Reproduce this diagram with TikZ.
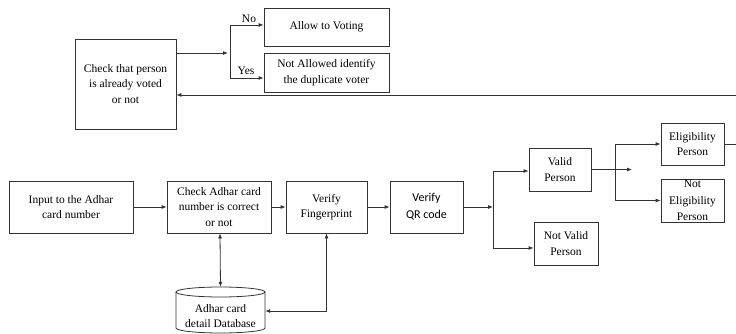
\documentclass[tikz,border=0pt]{standalone}
\usepackage{fontspec}
\setmainfont{Liberation Serif}
\newfontfamily\qrfont{Carlito}
\usetikzlibrary{arrows.meta}
\begin{document}
\begin{tikzpicture}[x=1pt,y=-1pt,
  box/.style={draw=black!80, line width=0.8pt, align=center, inner sep=1pt,
    font=\fontsize{11.5}{15.5}\selectfont},
  dbtext/.style={align=center, inner sep=0pt, font=\fontsize{11.5}{15.5}\selectfont},
  lbl/.style={inner sep=0pt, font=\fontsize{11.5}{14}\selectfont},
  line/.style={draw=black!80, line width=0.8pt},
  arr/.style={line, -{Latex[length=5pt,width=4pt]}},
  darr/.style={line, {Latex[length=5pt,width=4pt]}-{Latex[length=5pt,width=4pt]}}]
\useasboundingbox (0,0) rectangle (736,334);
\clip (0,0) rectangle (736,334);

% top part
\node[box, minimum width=101pt, minimum height=90pt] (chk) at (125.5,84) {Check that person\\is already voted\\or not};
\node[box, minimum width=125pt, minimum height=38pt] (allow) at (326.5,27) {Allow to Voting};
\node[box, minimum width=125pt, minimum height=39pt] (nallow) at (326.5,72.5) {Not Allowed identify\\the duplicate voter};

% main row
\node[box, minimum width=124pt, minimum height=52pt] (inp) at (71,207) {Input to the Adhar\\card number};
\node[box, minimum width=104pt, minimum height=52pt] (cad) at (219,207) {Check Adhar card\\number is correct\\or not};
\node[box, minimum width=81pt, minimum height=52pt] (fp) at (326.5,207) {Verify\\Fingerprint};
\node[box, minimum width=73pt, minimum height=52pt, font=\qrfont\fontsize{12}{17}\selectfont] (qr) at (426.5,207) {Verify\\QR code};
\node[box, minimum width=62pt, minimum height=43pt] (val) at (560,169.5) {Valid\\Person};
\node[box, minimum width=64pt, minimum height=43pt] (nval) at (566,243.5) {Not Valid\\Person};
\node[box, minimum width=63pt, minimum height=42pt] (elig) at (692.5,144) {Eligibility\\Person};
\node[box, minimum width=63pt, minimum height=43pt, font=\fontsize{11.5}{16.5}\selectfont] (nelig) at (692.5,200.5) {Not\\Eligibility\\Person};

% database cylinder
\node[dbtext, minimum width=89pt, minimum height=46pt] (db) at (220.5,310) {};
\draw[line, fill=white] (176,292) -- (176,328) arc[start angle=180, end angle=360, x radius=44.5pt, y radius=5pt] -- (265,292);
\draw[line] (220.5,292) ellipse[x radius=44.5pt, y radius=5pt];
\node[dbtext] (dbt) at (220.5,316) {Adhar card\\detail Database};

% top connectors
\coordinate (s1) at (230,53);
\draw[arr] (chk.east |- s1) -- (228,53);
\draw[arr] (s1) |- ([yshift=2pt]allow.west);
\draw[arr] (s1) |- ([yshift=-5.5pt]nallow.west);
\node[lbl] (no) at (249,19) {No};
\node[lbl] (yes) at (246,71) {Yes};

% feedback line
\draw[arr] (elig.east) -- (745,144) |- ([yshift=-11pt]chk.east);

% main row connectors
\draw[arr] (inp) -- (cad);
\draw[arr] (cad) -- (fp);
\draw[arr] (fp) -- (qr);
\draw[darr] ([xshift=1pt]cad.south) -- (db.north);
\draw[darr] (fp.south) |- ([yshift=-1pt]db.east);

\coordinate (s2) at (493,207);
\draw[arr] (qr.east) -- (s2);
\draw[arr] (s2) |- ([yshift=-1.5pt]val.west);
\draw[arr] (s2) |- ([yshift=-4.5pt]nval.west);

\coordinate (s3) at (615,169.5);
\coordinate (s3e) at (632,169.5);
\draw[arr] (val.east) -- (s3e);
\draw[arr] (s3) |- (elig.west);
\draw[arr] (s3) |- (nelig.west);
\end{tikzpicture}
\end{document}
